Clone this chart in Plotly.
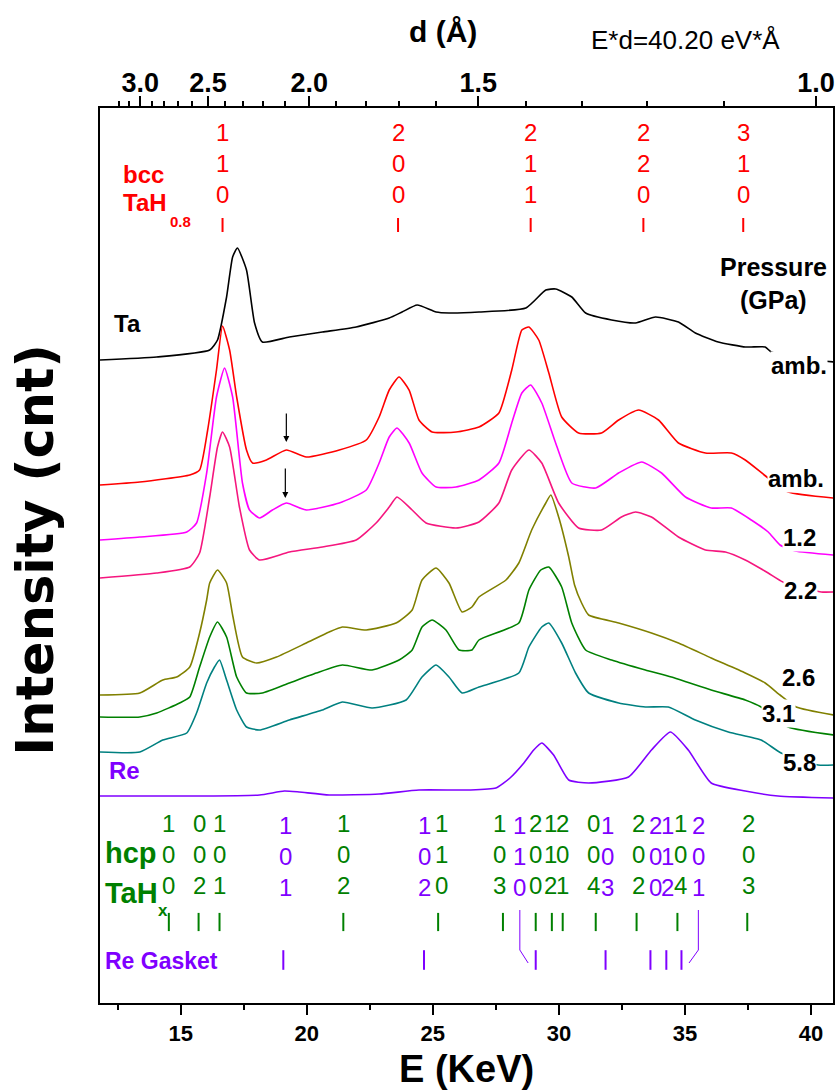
import plotly.graph_objects as go

FONT = "Liberation Sans"

# ---------------- data ----------------
# energy (keV) and intensity (arb. units, vertically offset spectra)
E_ta = [11.80, 14.05, 16.15, 16.46, 16.82, 17.06, 17.25, 17.61, 17.93, 18.24, 19.31, 20.62, 21.96, 23.27,
        23.78, 24.38, 25.13, 25.64, 26.83, 28.69, 29.48, 29.87, 30.51, 31.06, 32.09, 33.04, 33.83, 34.74,
        35.41, 36.32, 37.39, 37.63, 38.18, 38.42, 39.50, 40.90]
I_ta = [643, 646, 653, 663, 706, 746, 755, 733, 680, 661, 666, 671, 676, 685,
        691, 698, 691, 690, 691, 695, 713, 714, 706, 690, 683, 680, 686, 681,
        670, 661, 656, 656, 656, 651, 645, 641]

E_amb = [11.80, 13.38, 15.36, 15.75, 16.07, 16.42, 16.66, 16.94, 17.22, 17.61, 17.85, 18.40, 19.19, 19.98,
         21.29, 22.36, 22.87, 23.27, 23.66, 24.06, 24.45, 24.97, 25.92, 26.83, 27.62, 28.13, 28.53, 28.81,
         29.20, 29.60, 30.11, 30.78, 31.69, 32.37, 33.16, 33.95, 34.74, 35.81, 36.84, 37.39, 38.30, 39.09, 40.90]
I_amb = [518, 521, 528, 533, 573, 633, 677, 653, 606, 553, 540, 543, 553, 546,
         553, 563, 586, 613, 626, 613, 583, 571, 571, 576, 590, 633, 673, 676,
         663, 630, 586, 570, 570, 583, 593, 583, 560, 550, 550, 543, 525, 511, 505]

E_12 = [11.80, 13.38, 15.24, 15.63, 16.03, 16.42, 16.74, 17.06, 17.45, 17.73, 18.13, 18.64, 19.19, 19.98,
        21.29, 22.36, 22.87, 23.27, 23.58, 24.06, 24.57, 25.13, 25.92, 26.83, 27.62, 28.13, 28.53, 28.88,
        29.32, 29.87, 30.51, 31.46, 32.37, 33.28, 34.07, 35.02, 36.04, 36.84, 37.63, 38.30, 38.77, 39.37, 40.90]
I_12 = [463, 466, 471, 480, 530, 606, 635, 606, 520, 493, 485, 493, 500, 493,
        500, 513, 540, 566, 575, 560, 530, 516, 516, 523, 540, 580, 610, 618,
        600, 560, 520, 515, 530, 541, 530, 506, 495, 495, 483, 471, 458, 452, 448]

E_22 = [11.80, 14.05, 15.36, 15.75, 16.15, 16.46, 16.66, 16.94, 17.33, 17.73, 18.13, 19.31, 20.62, 21.96,
        22.75, 23.27, 23.58, 24.18, 24.73, 25.92, 26.83, 27.62, 28.13, 28.81, 29.32, 29.99, 30.78, 31.69,
        32.48, 33.04, 33.67, 34.74, 35.81, 36.60, 37.39, 38.30, 38.89, 40.40, 40.90]
I_22 = [425, 430, 436, 450, 506, 556, 571, 556, 496, 453, 443, 451, 456, 463,
        480, 496, 506, 493, 480, 475, 481, 500, 533, 553, 540, 500, 475, 473,
        486, 491, 486, 466, 453, 451, 443, 430, 421, 411, 411]

E_26 = [11.80, 13.38, 14.29, 14.84, 15.36, 15.75, 16.03, 16.15, 16.46, 16.82, 17.06, 17.45, 18.01, 18.80,
        19.98, 20.89, 21.41, 22.36, 23.54, 24.18, 24.57, 25.13, 25.64, 26.16, 26.55, 26.83, 27.90, 28.41,
        28.92, 29.48, 29.68, 29.99, 30.39, 30.62, 30.90, 31.18, 32.37, 33.67, 34.74, 36.04, 37.39, 38.18,
        38.77, 39.41, 40.90]
I_26 = [308, 310, 323, 326, 336, 370, 403, 420, 433, 420, 388, 346, 340, 346,
        360, 371, 376, 373, 380, 393, 423, 435, 420, 391, 396, 406, 423, 440,
        473, 500, 508, 486, 446, 418, 400, 388, 380, 370, 360, 345, 330, 320,
        308, 296, 288]

E_31 = [11.80, 13.38, 14.05, 14.96, 15.36, 15.75, 16.15, 16.46, 16.82, 17.22, 17.61, 18.24, 19.31, 20.38,
        21.41, 22.59, 23.66, 24.18, 24.57, 24.97, 25.52, 26.04, 26.55, 26.83, 28.41, 28.81, 29.28, 29.60,
        30.11, 30.51, 31.06, 32.09, 33.43, 34.46, 36.04, 37.39, 38.02, 39.09, 40.90]
I_31 = [286, 286, 290, 300, 306, 336, 366, 381, 366, 326, 310, 310, 320, 330,
        338, 333, 343, 353, 376, 383, 373, 353, 353, 363, 380, 413, 433, 436,
        416, 380, 353, 343, 333, 326, 313, 303, 296, 276, 268]

E_58 = [11.80, 13.38, 14.29, 15.24, 15.63, 16.03, 16.34, 16.54, 16.82, 17.22, 17.61, 18.13, 19.31, 20.62,
        21.41, 22.59, 23.94, 24.57, 25.13, 25.64, 26.16, 26.83, 28.41, 28.81, 29.32, 29.60, 30.11, 30.66,
        31.18, 32.37, 33.43, 34.34, 35.41, 36.72, 38.02, 38.81, 40.28, 40.90]
I_58 = [251, 251, 263, 270, 290, 320, 336, 343, 323, 293, 276, 273, 283, 293,
        301, 295, 303, 326, 338, 326, 310, 316, 330, 356, 376, 380, 360, 330,
        310, 300, 296, 296, 283, 271, 263, 250, 238, 238]

E_re = [11.80, 15.75, 18.13, 19.11, 19.70, 20.89, 22.87, 24.45, 26.43, 27.50, 28.06, 28.61, 29.00, 29.32,
        29.79, 30.39, 31.18, 32.76, 33.67, 34.42, 35.13, 36.04, 37.39, 38.69, 40.90]
I_re = [207, 207, 208, 212, 211, 208, 209, 213, 213, 215, 225, 240, 253, 260,
        248, 223, 220, 226, 253, 271, 253, 220, 212, 207, 205]

pressure_labels = ["amb.", "amb.", "1.2", "2.2", "2.6", "3.1", "5.8"]

# bcc TaH0.8 reflections
bcc_hkl = ["110", "200", "211", "220", "310"]
bcc_E = [16.66, 23.62, 28.88, 33.35, 37.31]

# hcp TaHx reflections (tick positions and label positions)
hcp_hkl = ["100", "002", "101", "102", "110", "103", "200", "112", "201", "004", "202", "104", "203"]
hcp_E = [14.53, 15.71, 16.54, 21.45, 25.21, 27.78, 29.08, 29.72, 30.15, 31.46, 33.08, 34.70, 37.47]
hcp_lab_E = [14.53, 15.76, 16.54, 21.45, 25.33, 27.66, 29.08, 29.68, 30.15, 31.38, 33.16, 34.82, 37.51]

# Re gasket reflections
re_hkl = ["101", "102", "110", "103", "200", "112", "201"]
re_E = [19.07, 24.65, 29.08, 31.85, 33.63, 34.26, 34.86]
re_lab_E = [19.15, 24.65, 28.45, 31.93, 33.83, 34.30, 35.53]

# top axis: d spacing (Angstrom), E*d = 40.20
EXD = 40.20
d_major = [3.0, 2.5, 2.0, 1.5, 1.0]
d_major_text = ["3.0", "2.5", "2.0", "1.5", "1.0"]
d_minor = [3.2, 3.1, 2.9, 2.8, 2.7, 2.6, 2.4, 2.3, 2.2, 2.1, 1.9, 1.8, 1.7, 1.6, 1.4, 1.3, 1.2, 1.1]

E_major = [15, 20, 25, 30, 35, 40]
E_minor = [12.5, 17.5, 22.5, 27.5, 32.5, 37.5]

# ---------------- styling ----------------
RED = "#FF0000"
GREEN = "#008000"
VIOLET = "#7F00FF"
X_RANGE = [11.80, 40.87]
Y_RANGE = [0, 895]

spectra = [
    (E_ta, I_ta, "black"),
    (E_amb, I_amb, "#FF0000"),
    (E_12, I_12, "#FF00FF"),
    (E_22, I_22, "#F5167E"),
    (E_26, I_26, "#808000"),
    (E_31, I_31, "#008000"),
    (E_58, I_58, "#008080"),
    (E_re, I_re, VIOLET),
]
label_pos = [(39.53, 638), (39.41, 525), (39.53, 466), (39.60, 413), (39.49, 326), (38.69, 290), (39.53, 241)]

fig = go.Figure()
for E, I, c in spectra:
    fig.add_trace(go.Scatter(x=E, y=I, mode="lines",
                             line=dict(color=c, width=1.6, shape="spline", smoothing=0.5),
                             hoverinfo="skip", showlegend=False))

# reflection ticks
fig.add_trace(go.Scatter(x=bcc_E, y=[778] * len(bcc_E), mode="markers",
                         marker=dict(symbol="line-ns", size=10, line=dict(color=RED, width=2)),
                         hoverinfo="skip", showlegend=False))
fig.add_trace(go.Scatter(x=hcp_E, y=[81] * len(hcp_E), mode="markers",
                         marker=dict(symbol="line-ns", size=13, line=dict(color=GREEN, width=2)),
                         hoverinfo="skip", showlegend=False))
fig.add_trace(go.Scatter(x=re_E, y=[43] * len(re_E), mode="markers",
                         marker=dict(symbol="line-ns", size=14, line=dict(color=VIOLET, width=2)),
                         hoverinfo="skip", showlegend=False))

# bracket connectors for displaced Re labels
for le, te in zip(re_lab_E, re_E):
    if abs(le - te) > 0.3:
        end = te + (0.3 if le > te else -0.3)
        fig.add_trace(go.Scatter(x=[le, le, end], y=[93, 53, 40], mode="lines",
                                 line=dict(color=VIOLET, width=1), hoverinfo="skip", showlegend=False))

# invisible trace for top axis
fig.add_trace(go.Scatter(x=X_RANGE, y=[None, None], xaxis="x2", mode="lines", showlegend=False, hoverinfo="skip"))

ann = []
def txt(x, y, s, size, color="black", bold=False, xanchor="center", xref="x", yref="y", family=FONT, **kw):
    ann.append(dict(x=x, y=y, xref=xref, yref=yref, text=(f"<b>{s}</b>" if bold else s),
                    showarrow=False, xanchor=xanchor, yanchor="middle",
                    font=dict(family=family, size=size, color=color), **kw))

# hkl labels
for h, e in zip(bcc_hkl, bcc_E):
    txt(e, 840, "<br>".join(h), 24, RED)
for h, e in zip(hcp_hkl, hcp_lab_E):
    txt(e, 149, "<br>".join(h), 24, GREEN)
for h, e in zip(re_hkl, re_lab_E):
    txt(e, 147, "<br>".join(h), 24, VIOLET)

# phase labels
txt(12.63, 829, "bcc", 24, RED, True, "left")
txt(12.63, 801, "TaH", 24, RED, True, "left")
txt(14.50, 782, "0.8", 15, RED, True, "left")
txt(11.91, 150, "hcp", 29, GREEN, True, "left")
txt(11.91, 110, "TaH", 29, GREEN, True, "left")
txt(14.29, 93, "x", 17, GREEN, True)
txt(11.91, 42, "Re Gasket", 23, VIOLET, True, "left")
txt(12.90, 680, "Ta", 24, "black", True)
txt(12.78, 233, "Re", 24, VIOLET, True)
txt(38.50, 736, "Pressure", 25, "black", True)
txt(38.50, 703, "(GPa)", 25, "black", True)

for s, (e, i) in zip(pressure_labels, label_pos):
    txt(e, i, s, 24, "black", True, bgcolor="white", borderpad=0)

# arrows
for xa, y0, y1 in [(19.19, 591, 561), (19.15, 536, 505)]:
    ann.append(dict(x=xa, y=y1, ax=xa, ay=y0, xref="x", yref="y", axref="x", ayref="y",
                    text="", showarrow=True, arrowhead=2, arrowsize=1, arrowwidth=1.2, arrowcolor="black"))

# axis titles / header
txt(0.468, 1.085, "d (Å)", 30, "black", True, xref="paper", yref="paper")
txt(0.799, 1.076, "E*d=40.20 eV*Å", 26, "black", False, xref="paper", yref="paper")
txt(0.50, -0.074, "E (KeV)", 38, "black", True, xref="paper", yref="paper")
ann.append(dict(x=-0.088, y=0.506, xref="paper", yref="paper", text="<b>Intensity (cnt)</b>",
                textangle=-90, showarrow=False, xanchor="center", yanchor="middle",
                font=dict(family="DejaVu Sans", size=51, color="black")))

fig.update_layout(
    width=837, height=1090,
    margin=dict(l=100, r=2, t=108, b=87),
    plot_bgcolor="white", paper_bgcolor="white",
    showlegend=False,
    annotations=ann,
    xaxis=dict(range=X_RANGE, showgrid=False, zeroline=False, showline=True, linecolor="black",
               linewidth=2, mirror=True, ticks="outside", ticklen=10, tickwidth=2, tickcolor="black",
               tickmode="array", tickvals=E_major, ticktext=[str(v) for v in E_major],
               minor=dict(tickvals=E_minor, ticks="outside", ticklen=5, tickwidth=1.5, tickcolor="black"),
               tickfont=dict(family=FONT, size=22, color="black", weight="bold")),
    xaxis2=dict(range=X_RANGE, overlaying="x", side="top", anchor="y", showgrid=False, zeroline=False,
                showline=True, linecolor="black", linewidth=2,
                ticks="outside", ticklen=10, tickwidth=2, tickcolor="black",
                tickmode="array", tickvals=[EXD / d for d in d_major], ticktext=d_major_text,
                ticklabelstandoff=-7,
                minor=dict(tickvals=[EXD / d for d in d_minor], ticks="outside", ticklen=5,
                           tickwidth=1.5, tickcolor="black"),
                tickfont=dict(family=FONT, size=27, color="black", weight="bold")),
    yaxis=dict(range=Y_RANGE, showgrid=False, zeroline=False, showline=True, linecolor="black",
               linewidth=2, mirror=True, showticklabels=False, ticks=""),
)

fig.write_html("out.html")
